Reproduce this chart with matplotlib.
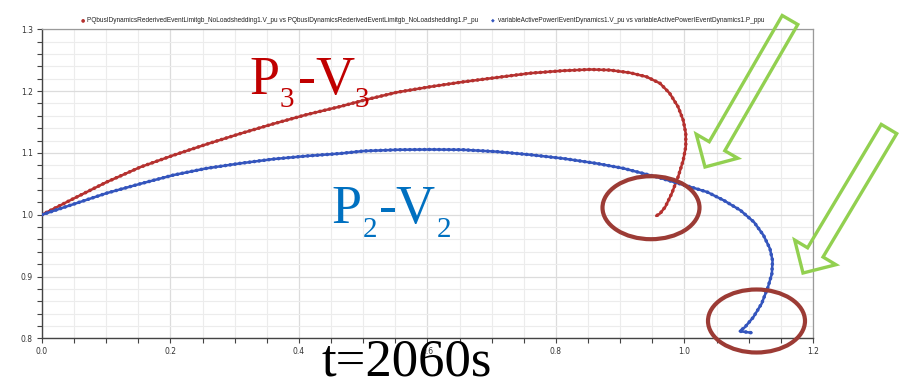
import matplotlib
matplotlib.use("Agg")
import matplotlib.pyplot as plt
import numpy as np
from matplotlib.patches import Ellipse, Polygon

# ---------------- data ----------------
p3 = [0.0, 0.049, 0.101, 0.153, 0.204, 0.256, 0.308, 0.360, 0.412, 0.464, 0.500,
      0.552, 0.604, 0.656, 0.708, 0.760, 0.811, 0.853, 0.884, 0.915, 0.941, 0.962,
      0.977, 0.990, 0.998, 1.002, 1.002, 0.998, 0.990, 0.980, 0.970, 0.962, 0.956]
v3 = [1.0, 1.026, 1.053, 1.077, 1.096, 1.114, 1.131, 1.147, 1.162, 1.175, 1.185,
      1.198, 1.207, 1.215, 1.222, 1.229, 1.233, 1.235, 1.234, 1.2297, 1.2232, 1.2125,
      1.1963, 1.1746, 1.153, 1.1314, 1.110, 1.088, 1.061, 1.034, 1.0125, 1.002, 0.998]

p2 = [0.0, 0.049, 0.101, 0.153, 0.204, 0.256, 0.308, 0.360, 0.412, 0.464, 0.500,
      0.552, 0.604, 0.656, 0.708, 0.760, 0.811, 0.863, 0.905, 0.957, 1.009, 1.035,
      1.061, 1.087, 1.108, 1.123, 1.133, 1.137, 1.136, 1.130, 1.120, 1.107, 1.094,
      1.086, 1.104]
v2 = [1.0, 1.017, 1.035, 1.050, 1.064, 1.075, 1.083, 1.090, 1.095, 1.099, 1.103,
      1.105, 1.1055, 1.105, 1.102, 1.097, 1.091, 1.083, 1.075, 1.061, 1.045, 1.0368,
      1.0233, 1.0071, 0.9882, 0.9666, 0.945, 0.926, 0.9045, 0.883, 0.856, 0.834, 0.818,
      0.8115, 0.809]

legend_labels = [
    "PQbusIDynamicsRederivedEventLimitgb_NoLoadshedding1.V_pu vs PQbusIDynamicsRederivedEventLimitgb_NoLoadshedding1.P_pu",
    "variableActivePowerIEventDynamics1.V_pu vs variableActivePowerIEventDynamics1.P_ppu",
]
x_ticklabels = ["0.0", "0.2", "0.4", "0.6", "0.8", "1.0", "1.2"]
y_ticklabels = ["0.8", "0.9", "1.0", "1.1", "1.2", "1.3"]

RED = "#b5312f"
BLUE = "#3455bd"
W, H = 900, 384

fig = plt.figure(figsize=(9, 3.84), dpi=100)
ax = fig.add_axes([42 / W, 1 - 338.3 / H, (813 - 42) / W, (338.3 - 29.3) / H])

ax.set_xlim(0, 1.2)
ax.set_ylim(0.8, 1.3)

# grid
ax.set_xticks(np.arange(0, 1.2001, 0.05), minor=True)
ax.set_yticks(np.arange(0.8, 1.3001, 0.02), minor=True)
ax.set_xticks([float(s) for s in x_ticklabels])
ax.set_xticklabels(x_ticklabels)
ax.set_yticks([float(s) for s in y_ticklabels])
ax.set_yticklabels(y_ticklabels)
ax.grid(True, which="minor", color="#ececec", lw=0.8)
ax.grid(True, which="major", color="#dcdcdc", lw=0.9)
ax.set_axisbelow(True)
ax.tick_params(which="both", direction="out", length=3.5, width=0.8, color="#444444",
               labelsize=5.5, labelcolor="#333333", pad=3)
for s in ["left", "bottom"]:
    ax.spines[s].set_color("#444444")
    ax.spines[s].set_linewidth(1.0)
for s in ["top", "right"]:
    ax.spines[s].set_color("#9a9a9a")
    ax.spines[s].set_linewidth(0.9)

# curves
for px, vy, c in [(p3, v3, RED), (p2, v2, BLUE)]:
    ax.plot(px, vy, color=c, lw=1.8, solid_capstyle="round", solid_joinstyle="round", zorder=3)
    ax.plot(px, vy, color=c, lw=2.6, linestyle=(0, (0.05, 1.3)), dash_capstyle="round", zorder=3)

# legend-like header
def fx(x):
    return x / W

def fy(y):
    return 1 - y / H

fig.text(fx(82.7), fy(20), "●", color=RED, fontsize=3.5, ha="center", va="center")
fig.text(fx(87.3), fy(20), legend_labels[0], fontsize=4.72, family="Liberation Sans",
         color="#222222", va="center")
fig.text(fx(493.3), fy(20), "◆", color=BLUE, fontsize=3.5, ha="center", va="center")
fig.text(fx(498.3), fy(20), legend_labels[1], fontsize=4.72, family="Liberation Sans",
         color="#222222", va="center")

# big serif labels
SERIF = "Liberation Serif"
def put(x, y, s, size, color):
    fig.text(fx(x), fy(y), s, fontsize=size, family=SERIF, color=color, va="baseline", ha="left")

C3 = "#c00000"
put(249, 94.3, "P", 39, C3)
put(280, 106.7, "3", 21, C3)
put(298, 94.3, "-", 39, C3)
put(315, 94.3, "V", 39, C3)
put(355, 106.7, "3", 21, C3)

C2 = "#0070c0"
put(331, 222.7, "P", 39, C2)
put(362.7, 236.7, "2", 21, C2)
put(379, 222.7, "-", 39, C2)
put(395, 222.7, "V", 39, C2)
put(436.7, 236.7, "2", 21, C2)

put(322, 375, "t=2060s", 38, "black")

# ellipses (pixel -> figure fraction)
ELL = "#9c3b35"
for cx, cy, w, h in [(651, 207.7, 97, 63), (756.5, 321, 97, 63)]:
    e = Ellipse((fx(cx), fy(cy)), w / W, h / H, transform=fig.transFigure,
                fill=False, edgecolor=ELL, lw=3.0, zorder=10)
    fig.patches.append(e)

# hollow green arrows
GREEN = "#92d050"
def arrow(tail, tip, sw=9, hw=24, hl=24):
    t = np.array(tail, float)
    p = np.array(tip, float)
    d = p - t
    L = np.linalg.norm(d)
    u = d / L
    n = np.array([-u[1], u[0]])
    b = p - u * hl
    pts = [t + n * sw, b + n * sw, b + n * hw, p, b - n * hw, b - n * sw, t - n * sw]
    pts = [(fx(q[0]), fy(q[1])) for q in pts]
    poly = Polygon(pts, closed=True, transform=fig.transFigure, fill=False,
                   edgecolor=GREEN, lw=2.4, joinstyle="miter", zorder=10)
    fig.patches.append(poly)

arrow((790, 20), (705, 167))
arrow((889, 129), (803, 273))

fig.savefig("out.png", dpi=100)
